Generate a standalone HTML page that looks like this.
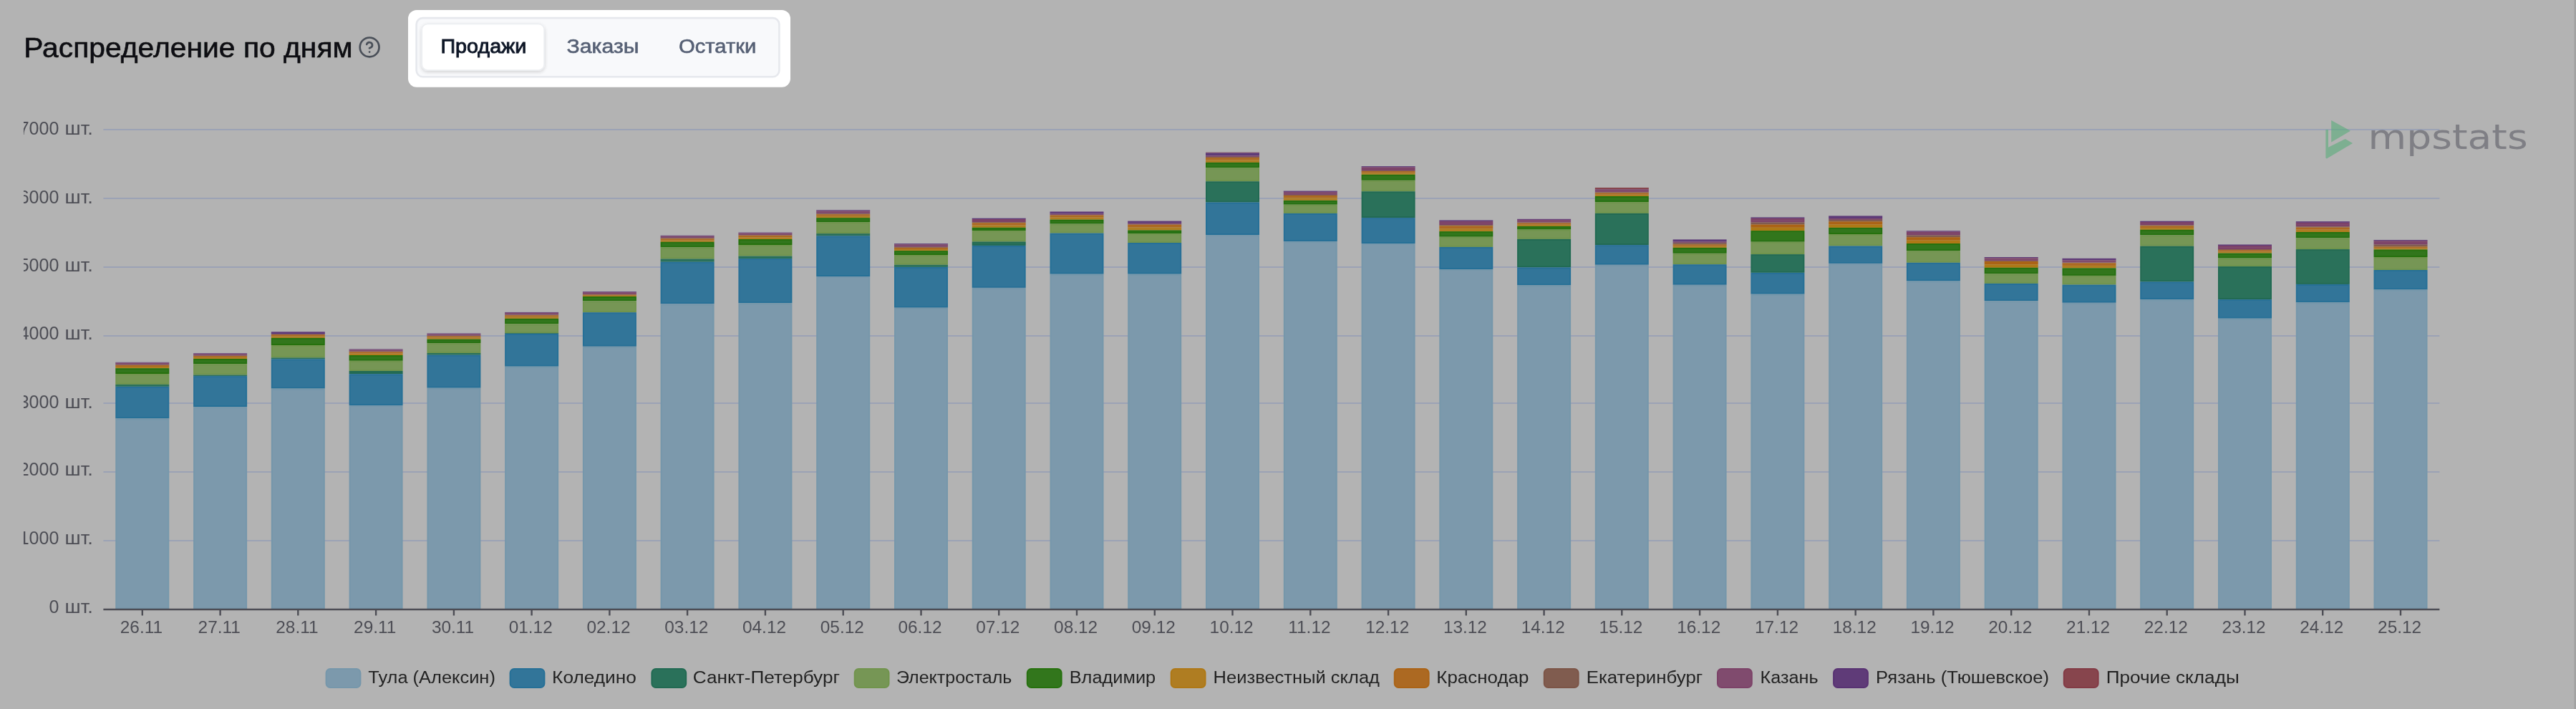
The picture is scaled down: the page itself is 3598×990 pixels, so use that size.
<!DOCTYPE html>
<html lang="ru"><head><meta charset="utf-8"><title>Распределение по дням</title>
<style>html,body{margin:0;padding:0;background:#b3b3b3;}body{width:3598px;height:990px;overflow:hidden;}svg{display:block}text{white-space:pre}</style></head><body>
<svg width="3598" height="990" viewBox="0 0 3598 990" font-family="Liberation Sans, Arial, sans-serif">
<defs><clipPath id="cl"><rect x="33.5" y="0" width="3600" height="990"/></clipPath>
<filter id="sh" x="-10%" y="-20%" width="120%" height="150%"><feGaussianBlur in="SourceAlpha" stdDeviation="2.5"/><feOffset dy="2"/><feComponentTransfer><feFuncA type="linear" slope="0.16"/></feComponentTransfer><feMerge><feMergeNode/><feMergeNode in="SourceGraphic"/></feMerge></filter>
<filter id="bs" filterUnits="userSpaceOnUse" x="0" y="0" width="3598" height="990"><feGaussianBlur stdDeviation="0.7"/></filter>
<filter id="bt" filterUnits="userSpaceOnUse" x="0" y="0" width="3598" height="990"><feGaussianBlur stdDeviation="0.5"/></filter>
</defs>
<rect width="3598" height="990" fill="#b3b3b3"/>
<g filter="url(#bs)">
<rect x="3595.4" y="-5" width="8" height="1000" fill="#a2a2a2"/>
<g fill="none" stroke="#4a4f59" stroke-width="2" stroke-linecap="round" stroke-linejoin="round" transform="translate(516.1 65.9) scale(1.34) translate(-12 -12)"><circle cx="12" cy="12" r="10"/><path d="M9.09 9a3 3 0 0 1 5.83 1c0 2-3 3-3 3"/><line x1="12" y1="17" x2="12.01" y2="17"/></g>
<rect x="570" y="14" width="534" height="107.7" rx="12" fill="#ffffff"/>
<rect x="581.6" y="25.1" width="506.8" height="82.2" rx="9" fill="#f8f9fb" stroke="#e6e8ed" stroke-width="2.6"/>
<rect x="589.3" y="33.4" width="170.8" height="64.6" rx="8" fill="#ffffff" stroke="#eceef1" stroke-width="1.6" filter="url(#sh)"/>
<g stroke="#9ba2b5" stroke-width="2">
<line x1="144.4" y1="755" x2="3407.4" y2="755"/>
<line x1="144.4" y1="659" x2="3407.4" y2="659"/>
<line x1="144.4" y1="563" x2="3407.4" y2="563"/>
<line x1="144.4" y1="469" x2="3407.4" y2="469"/>
<line x1="144.4" y1="373" x2="3407.4" y2="373"/>
<line x1="144.4" y1="277" x2="3407.4" y2="277"/>
<line x1="144.4" y1="181" x2="3407.4" y2="181"/>
</g>
<rect x="161.3" y="505.8" width="75.0" height="0.8" fill="#5f3a78"/>
<rect x="161.3" y="506.6" width="75.0" height="2.6" fill="#804b6e"/>
<rect x="161.3" y="509.2" width="75.0" height="0.6" fill="#805c50"/>
<rect x="161.3" y="509.8" width="75.0" height="2.2" fill="#ac6921"/>
<rect x="161.3" y="512.0" width="75.0" height="2.2" fill="#af7d21"/>
<rect x="162.3" y="515.2" width="73.0" height="5.8" fill="#32761e" stroke="#277111" stroke-width="2"/>
<rect x="162.3" y="523.0" width="73.0" height="12.9" fill="#769655" stroke="#71944d" stroke-width="2"/>
<rect x="161.3" y="536.9" width="75.0" height="2.9" fill="#2c715a"/>
<rect x="162.3" y="540.8" width="73.0" height="42.6" fill="#327599" stroke="#277097" stroke-width="2"/>
<rect x="162.3" y="585.4" width="73.0" height="264.6" fill="#7b99ac" stroke="#7697ab" stroke-width="2"/>
<rect x="270.1" y="493.3" width="75.0" height="0.8" fill="#5f3a78"/>
<rect x="270.1" y="494.1" width="75.0" height="2.5" fill="#804b6e"/>
<rect x="270.1" y="496.5" width="75.0" height="0.6" fill="#805c50"/>
<rect x="270.1" y="497.1" width="75.0" height="1.9" fill="#ac6921"/>
<rect x="270.1" y="499.1" width="75.0" height="1.9" fill="#af7d21"/>
<rect x="271.1" y="502.0" width="73.0" height="5.1" fill="#32761e" stroke="#277111" stroke-width="2"/>
<rect x="271.1" y="509.1" width="73.0" height="13.4" fill="#769655" stroke="#71944d" stroke-width="2"/>
<rect x="270.1" y="523.5" width="75.0" height="1.6" fill="#2c715a"/>
<rect x="271.1" y="526.1" width="73.0" height="41.0" fill="#327599" stroke="#277097" stroke-width="2"/>
<rect x="271.1" y="569.1" width="73.0" height="280.9" fill="#7b99ac" stroke="#7697ab" stroke-width="2"/>
<rect x="378.8" y="463.3" width="75.0" height="3.5" fill="#5f3a78"/>
<rect x="378.8" y="466.8" width="75.0" height="0.3" fill="#805c50"/>
<rect x="378.8" y="467.1" width="75.0" height="2.4" fill="#ac6921"/>
<rect x="378.8" y="469.5" width="75.0" height="2.4" fill="#af7d21"/>
<rect x="379.8" y="472.9" width="73.0" height="8.1" fill="#32761e" stroke="#277111" stroke-width="2"/>
<rect x="379.8" y="483.0" width="73.0" height="15.4" fill="#769655" stroke="#71944d" stroke-width="2"/>
<rect x="378.8" y="499.4" width="75.0" height="1.9" fill="#2c715a"/>
<rect x="379.8" y="502.3" width="73.0" height="39.3" fill="#327599" stroke="#277097" stroke-width="2"/>
<rect x="379.8" y="543.6" width="73.0" height="306.4" fill="#7b99ac" stroke="#7697ab" stroke-width="2"/>
<rect x="487.6" y="487.5" width="75.0" height="0.8" fill="#5f3a78"/>
<rect x="487.6" y="488.3" width="75.0" height="2.5" fill="#804b6e"/>
<rect x="487.6" y="490.7" width="75.0" height="0.6" fill="#805c50"/>
<rect x="487.6" y="491.3" width="75.0" height="2.3" fill="#ac6921"/>
<rect x="487.6" y="493.6" width="75.0" height="2.4" fill="#af7d21"/>
<rect x="488.6" y="497.0" width="73.0" height="5.8" fill="#32761e" stroke="#277111" stroke-width="2"/>
<rect x="488.6" y="504.8" width="73.0" height="12.2" fill="#769655" stroke="#71944d" stroke-width="2"/>
<rect x="488.6" y="519.0" width="73.0" height="2.2" fill="#2c715a" stroke="#206b52" stroke-width="2"/>
<rect x="488.6" y="523.2" width="73.0" height="41.8" fill="#327599" stroke="#277097" stroke-width="2"/>
<rect x="488.6" y="567.0" width="73.0" height="283.0" fill="#7b99ac" stroke="#7697ab" stroke-width="2"/>
<rect x="596.4" y="465.5" width="75.0" height="0.8" fill="#5f3a78"/>
<rect x="596.4" y="466.3" width="75.0" height="2.5" fill="#804b6e"/>
<rect x="596.4" y="468.7" width="75.0" height="0.6" fill="#805c50"/>
<rect x="596.4" y="469.3" width="75.0" height="2.2" fill="#ac6921"/>
<rect x="596.4" y="471.5" width="75.0" height="2.2" fill="#af7d21"/>
<rect x="597.4" y="474.7" width="73.0" height="3.4" fill="#32761e" stroke="#277111" stroke-width="2"/>
<rect x="597.4" y="480.1" width="73.0" height="11.9" fill="#769655" stroke="#71944d" stroke-width="2"/>
<rect x="596.4" y="493.0" width="75.0" height="2.7" fill="#2c715a"/>
<rect x="597.4" y="496.7" width="73.0" height="44.0" fill="#327599" stroke="#277097" stroke-width="2"/>
<rect x="597.4" y="542.7" width="73.0" height="307.3" fill="#7b99ac" stroke="#7697ab" stroke-width="2"/>
<rect x="705.1" y="435.9" width="75.0" height="0.9" fill="#5f3a78"/>
<rect x="705.1" y="436.8" width="75.0" height="2.8" fill="#804b6e"/>
<rect x="705.1" y="439.6" width="75.0" height="0.6" fill="#805c50"/>
<rect x="705.1" y="440.2" width="75.0" height="2.3" fill="#ac6921"/>
<rect x="705.1" y="442.5" width="75.0" height="2.4" fill="#af7d21"/>
<rect x="706.1" y="445.9" width="73.0" height="5.4" fill="#32761e" stroke="#277111" stroke-width="2"/>
<rect x="706.1" y="453.3" width="73.0" height="10.7" fill="#769655" stroke="#71944d" stroke-width="2"/>
<rect x="705.1" y="465.0" width="75.0" height="0.9" fill="#2c715a"/>
<rect x="706.1" y="466.9" width="73.0" height="43.8" fill="#327599" stroke="#277097" stroke-width="2"/>
<rect x="706.1" y="512.7" width="73.0" height="337.3" fill="#7b99ac" stroke="#7697ab" stroke-width="2"/>
<rect x="813.9" y="407.2" width="75.0" height="0.9" fill="#5f3a78"/>
<rect x="813.9" y="408.1" width="75.0" height="2.9" fill="#804b6e"/>
<rect x="813.9" y="410.9" width="75.0" height="0.7" fill="#805c50"/>
<rect x="813.9" y="411.6" width="75.0" height="1.2" fill="#ac6921"/>
<rect x="813.9" y="412.8" width="75.0" height="1.2" fill="#af7d21"/>
<rect x="814.9" y="415.0" width="73.0" height="4.3" fill="#32761e" stroke="#277111" stroke-width="2"/>
<rect x="814.9" y="421.3" width="73.0" height="13.9" fill="#769655" stroke="#71944d" stroke-width="2"/>
<rect x="814.9" y="437.2" width="73.0" height="45.6" fill="#327599" stroke="#277097" stroke-width="2"/>
<rect x="814.9" y="484.8" width="73.0" height="365.2" fill="#7b99ac" stroke="#7697ab" stroke-width="2"/>
<rect x="922.6" y="328.8" width="75.0" height="0.9" fill="#5f3a78"/>
<rect x="922.6" y="329.7" width="75.0" height="2.9" fill="#804b6e"/>
<rect x="922.6" y="332.5" width="75.0" height="0.7" fill="#805c50"/>
<rect x="922.6" y="333.2" width="75.0" height="2.3" fill="#ac6921"/>
<rect x="922.6" y="335.5" width="75.0" height="2.3" fill="#af7d21"/>
<rect x="923.6" y="338.8" width="73.0" height="5.6" fill="#32761e" stroke="#277111" stroke-width="2"/>
<rect x="923.6" y="346.4" width="73.0" height="14.1" fill="#769655" stroke="#71944d" stroke-width="2"/>
<rect x="922.6" y="361.5" width="75.0" height="4.2" fill="#2c715a"/>
<rect x="923.6" y="366.7" width="73.0" height="56.6" fill="#327599" stroke="#277097" stroke-width="2"/>
<rect x="923.6" y="425.3" width="73.0" height="424.7" fill="#7b99ac" stroke="#7697ab" stroke-width="2"/>
<rect x="1031.4" y="324.6" width="75.0" height="0.8" fill="#5f3a78"/>
<rect x="1031.4" y="325.4" width="75.0" height="2.7" fill="#804b6e"/>
<rect x="1031.4" y="328.2" width="75.0" height="0.6" fill="#805c50"/>
<rect x="1031.4" y="328.8" width="75.0" height="2.6" fill="#ac6921"/>
<rect x="1031.4" y="331.4" width="75.0" height="2.6" fill="#af7d21"/>
<rect x="1032.4" y="335.0" width="73.0" height="6.0" fill="#32761e" stroke="#277111" stroke-width="2"/>
<rect x="1032.4" y="343.0" width="73.0" height="13.6" fill="#769655" stroke="#71944d" stroke-width="2"/>
<rect x="1031.4" y="357.6" width="75.0" height="3.5" fill="#2c715a"/>
<rect x="1032.4" y="362.1" width="73.0" height="60.1" fill="#327599" stroke="#277097" stroke-width="2"/>
<rect x="1032.4" y="424.2" width="73.0" height="425.8" fill="#7b99ac" stroke="#7697ab" stroke-width="2"/>
<rect x="1140.2" y="293.3" width="75.0" height="1.2" fill="#5f3a78"/>
<rect x="1140.2" y="294.5" width="75.0" height="3.8" fill="#804b6e"/>
<rect x="1140.2" y="298.3" width="75.0" height="0.9" fill="#805c50"/>
<rect x="1140.2" y="299.2" width="75.0" height="2.5" fill="#ac6921"/>
<rect x="1140.2" y="301.7" width="75.0" height="2.5" fill="#af7d21"/>
<rect x="1141.2" y="305.2" width="73.0" height="3.9" fill="#32761e" stroke="#277111" stroke-width="2"/>
<rect x="1141.2" y="311.1" width="73.0" height="14.0" fill="#769655" stroke="#71944d" stroke-width="2"/>
<rect x="1140.2" y="326.1" width="75.0" height="3.3" fill="#2c715a"/>
<rect x="1141.2" y="330.4" width="73.0" height="54.6" fill="#327599" stroke="#277097" stroke-width="2"/>
<rect x="1141.2" y="387.0" width="73.0" height="463.0" fill="#7b99ac" stroke="#7697ab" stroke-width="2"/>
<rect x="1249.0" y="340.1" width="75.0" height="1.1" fill="#5f3a78"/>
<rect x="1249.0" y="341.2" width="75.0" height="3.7" fill="#804b6e"/>
<rect x="1249.0" y="344.9" width="75.0" height="0.9" fill="#805c50"/>
<rect x="1249.0" y="345.8" width="75.0" height="2.2" fill="#ac6921"/>
<rect x="1249.0" y="348.0" width="75.0" height="2.1" fill="#af7d21"/>
<rect x="1250.0" y="351.1" width="73.0" height="3.9" fill="#32761e" stroke="#277111" stroke-width="2"/>
<rect x="1250.0" y="357.0" width="73.0" height="11.8" fill="#769655" stroke="#71944d" stroke-width="2"/>
<rect x="1249.0" y="369.8" width="75.0" height="3.1" fill="#2c715a"/>
<rect x="1250.0" y="373.9" width="73.0" height="54.8" fill="#327599" stroke="#277097" stroke-width="2"/>
<rect x="1250.0" y="430.7" width="73.0" height="419.3" fill="#7b99ac" stroke="#7697ab" stroke-width="2"/>
<rect x="1357.7" y="304.7" width="75.0" height="1.3" fill="#5f3a78"/>
<rect x="1358.7" y="307.0" width="73.0" height="2.2" fill="#804b6e" stroke="#7c4268" stroke-width="2"/>
<rect x="1357.7" y="310.2" width="75.0" height="1.0" fill="#805c50"/>
<rect x="1357.7" y="311.2" width="75.0" height="3.3" fill="#ac6921"/>
<rect x="1357.7" y="314.5" width="75.0" height="3.3" fill="#af7d21"/>
<rect x="1358.7" y="318.8" width="73.0" height="2.4" fill="#32761e" stroke="#277111" stroke-width="2"/>
<rect x="1358.7" y="323.2" width="73.0" height="13.3" fill="#769655" stroke="#71944d" stroke-width="2"/>
<rect x="1358.7" y="338.5" width="73.0" height="3.4" fill="#2c715a" stroke="#206b52" stroke-width="2"/>
<rect x="1358.7" y="343.9" width="73.0" height="57.0" fill="#327599" stroke="#277097" stroke-width="2"/>
<rect x="1358.7" y="402.9" width="73.0" height="447.1" fill="#7b99ac" stroke="#7697ab" stroke-width="2"/>
<rect x="1466.5" y="295.5" width="75.0" height="3.1" fill="#5f3a78"/>
<rect x="1466.5" y="298.6" width="75.0" height="1.4" fill="#804b6e"/>
<rect x="1466.5" y="300.0" width="75.0" height="0.5" fill="#805c50"/>
<rect x="1466.5" y="300.5" width="75.0" height="3.1" fill="#ac6921"/>
<rect x="1466.5" y="303.6" width="75.0" height="3.1" fill="#af7d21"/>
<rect x="1467.5" y="307.7" width="73.0" height="3.9" fill="#32761e" stroke="#277111" stroke-width="2"/>
<rect x="1467.5" y="313.6" width="73.0" height="11.0" fill="#769655" stroke="#71944d" stroke-width="2"/>
<rect x="1467.5" y="326.6" width="73.0" height="55.1" fill="#327599" stroke="#277097" stroke-width="2"/>
<rect x="1467.5" y="383.7" width="73.0" height="466.3" fill="#7b99ac" stroke="#7697ab" stroke-width="2"/>
<rect x="1575.2" y="308.6" width="75.0" height="3.2" fill="#5f3a78"/>
<rect x="1575.2" y="311.8" width="75.0" height="1.4" fill="#804b6e"/>
<rect x="1575.2" y="313.2" width="75.0" height="0.5" fill="#805c50"/>
<rect x="1575.2" y="313.7" width="75.0" height="3.9" fill="#ac6921"/>
<rect x="1575.2" y="317.6" width="75.0" height="3.9" fill="#af7d21"/>
<rect x="1576.2" y="322.5" width="73.0" height="2.6" fill="#32761e" stroke="#277111" stroke-width="2"/>
<rect x="1576.2" y="327.1" width="73.0" height="10.9" fill="#769655" stroke="#71944d" stroke-width="2"/>
<rect x="1576.2" y="340.0" width="73.0" height="41.7" fill="#327599" stroke="#277097" stroke-width="2"/>
<rect x="1576.2" y="383.7" width="73.0" height="466.3" fill="#7b99ac" stroke="#7697ab" stroke-width="2"/>
<rect x="1684.0" y="212.7" width="75.0" height="0.7" fill="#87444e"/>
<rect x="1684.0" y="213.4" width="75.0" height="4.1" fill="#5f3a78"/>
<rect x="1684.0" y="217.5" width="75.0" height="1.5" fill="#804b6e"/>
<rect x="1684.0" y="219.0" width="75.0" height="1.1" fill="#805c50"/>
<rect x="1684.0" y="220.1" width="75.0" height="3.4" fill="#ac6921"/>
<rect x="1684.0" y="223.5" width="75.0" height="3.4" fill="#af7d21"/>
<rect x="1685.0" y="227.9" width="73.0" height="5.4" fill="#32761e" stroke="#277111" stroke-width="2"/>
<rect x="1685.0" y="235.3" width="73.0" height="17.0" fill="#769655" stroke="#71944d" stroke-width="2"/>
<rect x="1685.0" y="254.3" width="73.0" height="27.2" fill="#2c715a" stroke="#206b52" stroke-width="2"/>
<rect x="1685.0" y="283.5" width="73.0" height="43.5" fill="#327599" stroke="#277097" stroke-width="2"/>
<rect x="1685.0" y="329.0" width="73.0" height="521.0" fill="#7b99ac" stroke="#7697ab" stroke-width="2"/>
<rect x="1792.8" y="266.6" width="75.0" height="1.3" fill="#5f3a78"/>
<rect x="1792.8" y="267.9" width="75.0" height="4.2" fill="#804b6e"/>
<rect x="1792.8" y="272.0" width="75.0" height="1.0" fill="#805c50"/>
<rect x="1792.8" y="273.0" width="75.0" height="3.4" fill="#ac6921"/>
<rect x="1792.8" y="276.4" width="75.0" height="3.4" fill="#af7d21"/>
<rect x="1793.8" y="280.9" width="73.0" height="3.8" fill="#32761e" stroke="#277111" stroke-width="2"/>
<rect x="1793.8" y="286.7" width="73.0" height="10.2" fill="#769655" stroke="#71944d" stroke-width="2"/>
<rect x="1793.8" y="298.9" width="73.0" height="37.2" fill="#327599" stroke="#277097" stroke-width="2"/>
<rect x="1793.8" y="338.1" width="73.0" height="511.9" fill="#7b99ac" stroke="#7697ab" stroke-width="2"/>
<rect x="1901.6" y="232.1" width="75.0" height="1.4" fill="#5f3a78"/>
<rect x="1902.6" y="234.5" width="73.0" height="2.6" fill="#804b6e" stroke="#7c4268" stroke-width="2"/>
<rect x="1901.6" y="238.1" width="75.0" height="1.1" fill="#805c50"/>
<rect x="1901.6" y="239.1" width="75.0" height="2.3" fill="#ac6921"/>
<rect x="1901.6" y="241.4" width="75.0" height="2.4" fill="#af7d21"/>
<rect x="1902.6" y="244.8" width="73.0" height="6.0" fill="#32761e" stroke="#277111" stroke-width="2"/>
<rect x="1902.6" y="252.8" width="73.0" height="13.5" fill="#769655" stroke="#71944d" stroke-width="2"/>
<rect x="1902.6" y="268.3" width="73.0" height="34.8" fill="#2c715a" stroke="#206b52" stroke-width="2"/>
<rect x="1902.6" y="305.1" width="73.0" height="33.9" fill="#327599" stroke="#277097" stroke-width="2"/>
<rect x="1902.6" y="341.0" width="73.0" height="509.0" fill="#7b99ac" stroke="#7697ab" stroke-width="2"/>
<rect x="2010.3" y="307.5" width="75.0" height="1.6" fill="#5f3a78"/>
<rect x="2011.3" y="310.1" width="73.0" height="3.1" fill="#804b6e" stroke="#7c4268" stroke-width="2"/>
<rect x="2010.3" y="314.1" width="75.0" height="1.2" fill="#805c50"/>
<rect x="2010.3" y="315.3" width="75.0" height="3.9" fill="#ac6921"/>
<rect x="2010.3" y="319.2" width="75.0" height="3.9" fill="#af7d21"/>
<rect x="2011.3" y="324.1" width="73.0" height="5.6" fill="#32761e" stroke="#277111" stroke-width="2"/>
<rect x="2011.3" y="331.7" width="73.0" height="12.2" fill="#769655" stroke="#71944d" stroke-width="2"/>
<rect x="2011.3" y="345.9" width="73.0" height="29.1" fill="#327599" stroke="#277097" stroke-width="2"/>
<rect x="2011.3" y="377.0" width="73.0" height="473.0" fill="#7b99ac" stroke="#7697ab" stroke-width="2"/>
<rect x="2119.1" y="305.8" width="75.0" height="1.1" fill="#5f3a78"/>
<rect x="2119.1" y="306.9" width="75.0" height="3.7" fill="#804b6e"/>
<rect x="2119.1" y="310.6" width="75.0" height="0.9" fill="#805c50"/>
<rect x="2119.1" y="311.5" width="75.0" height="2.2" fill="#ac6921"/>
<rect x="2119.1" y="313.7" width="75.0" height="2.2" fill="#af7d21"/>
<rect x="2120.1" y="316.9" width="73.0" height="2.7" fill="#32761e" stroke="#277111" stroke-width="2"/>
<rect x="2120.1" y="321.6" width="73.0" height="11.3" fill="#769655" stroke="#71944d" stroke-width="2"/>
<rect x="2120.1" y="334.9" width="73.0" height="37.5" fill="#2c715a" stroke="#206b52" stroke-width="2"/>
<rect x="2120.1" y="374.4" width="73.0" height="23.0" fill="#327599" stroke="#277097" stroke-width="2"/>
<rect x="2120.1" y="399.4" width="73.0" height="450.6" fill="#7b99ac" stroke="#7697ab" stroke-width="2"/>
<rect x="2227.8" y="262.0" width="75.0" height="2.2" fill="#87444e"/>
<rect x="2227.8" y="264.2" width="75.0" height="4.1" fill="#804b6e"/>
<rect x="2227.8" y="268.3" width="75.0" height="1.1" fill="#805c50"/>
<rect x="2227.8" y="269.4" width="75.0" height="2.3" fill="#ac6921"/>
<rect x="2227.8" y="271.7" width="75.0" height="2.3" fill="#af7d21"/>
<rect x="2228.8" y="275.0" width="73.0" height="6.1" fill="#32761e" stroke="#277111" stroke-width="2"/>
<rect x="2228.8" y="283.1" width="73.0" height="13.8" fill="#769655" stroke="#71944d" stroke-width="2"/>
<rect x="2228.8" y="298.9" width="73.0" height="42.2" fill="#2c715a" stroke="#206b52" stroke-width="2"/>
<rect x="2228.8" y="343.1" width="73.0" height="25.7" fill="#327599" stroke="#277097" stroke-width="2"/>
<rect x="2228.8" y="370.8" width="73.0" height="479.2" fill="#7b99ac" stroke="#7697ab" stroke-width="2"/>
<rect x="2336.6" y="334.4" width="75.0" height="3.1" fill="#5f3a78"/>
<rect x="2336.6" y="337.5" width="75.0" height="1.7" fill="#804b6e"/>
<rect x="2336.6" y="339.2" width="75.0" height="2.1" fill="#805c50"/>
<rect x="2336.6" y="341.3" width="75.0" height="2.3" fill="#ac6921"/>
<rect x="2336.6" y="343.6" width="75.0" height="2.3" fill="#af7d21"/>
<rect x="2337.6" y="346.9" width="73.0" height="5.9" fill="#32761e" stroke="#277111" stroke-width="2"/>
<rect x="2337.6" y="354.8" width="73.0" height="13.4" fill="#769655" stroke="#71944d" stroke-width="2"/>
<rect x="2337.6" y="370.2" width="73.0" height="26.6" fill="#327599" stroke="#277097" stroke-width="2"/>
<rect x="2337.6" y="398.8" width="73.0" height="451.2" fill="#7b99ac" stroke="#7697ab" stroke-width="2"/>
<rect x="2445.4" y="303.4" width="75.0" height="1.5" fill="#5f3a78"/>
<rect x="2446.4" y="305.9" width="73.0" height="3.6" fill="#804b6e" stroke="#7c4268" stroke-width="2"/>
<rect x="2445.4" y="310.5" width="75.0" height="3.0" fill="#805c50"/>
<rect x="2446.4" y="314.5" width="73.0" height="2.3" fill="#ac6921" stroke="#ab6314" stroke-width="2"/>
<rect x="2446.4" y="318.8" width="73.0" height="2.3" fill="#af7d21" stroke="#af7814" stroke-width="2"/>
<rect x="2446.4" y="323.1" width="73.0" height="13.6" fill="#32761e" stroke="#277111" stroke-width="2"/>
<rect x="2446.4" y="338.7" width="73.0" height="15.4" fill="#769655" stroke="#71944d" stroke-width="2"/>
<rect x="2446.4" y="356.1" width="73.0" height="23.7" fill="#2c715a" stroke="#206b52" stroke-width="2"/>
<rect x="2446.4" y="381.8" width="73.0" height="27.9" fill="#327599" stroke="#277097" stroke-width="2"/>
<rect x="2446.4" y="411.7" width="73.0" height="438.3" fill="#7b99ac" stroke="#7697ab" stroke-width="2"/>
<rect x="2554.2" y="301.4" width="75.0" height="3.6" fill="#5f3a78"/>
<rect x="2554.2" y="305.0" width="75.0" height="2.0" fill="#804b6e"/>
<rect x="2554.2" y="306.9" width="75.0" height="2.4" fill="#805c50"/>
<rect x="2555.2" y="310.3" width="73.0" height="2.3" fill="#ac6921" stroke="#ab6314" stroke-width="2"/>
<rect x="2555.2" y="314.6" width="73.0" height="2.3" fill="#af7d21" stroke="#af7814" stroke-width="2"/>
<rect x="2555.2" y="318.9" width="73.0" height="7.1" fill="#32761e" stroke="#277111" stroke-width="2"/>
<rect x="2555.2" y="328.0" width="73.0" height="14.5" fill="#769655" stroke="#71944d" stroke-width="2"/>
<rect x="2555.2" y="344.5" width="73.0" height="22.4" fill="#327599" stroke="#277097" stroke-width="2"/>
<rect x="2555.2" y="368.9" width="73.0" height="481.1" fill="#7b99ac" stroke="#7697ab" stroke-width="2"/>
<rect x="2662.9" y="322.3" width="75.0" height="1.3" fill="#5f3a78"/>
<rect x="2663.9" y="324.6" width="73.0" height="2.9" fill="#804b6e" stroke="#7c4268" stroke-width="2"/>
<rect x="2662.9" y="328.5" width="75.0" height="2.7" fill="#805c50"/>
<rect x="2663.9" y="332.2" width="73.0" height="2.4" fill="#ac6921" stroke="#ab6314" stroke-width="2"/>
<rect x="2663.9" y="336.6" width="73.0" height="2.4" fill="#af7d21" stroke="#af7814" stroke-width="2"/>
<rect x="2663.9" y="341.0" width="73.0" height="8.2" fill="#32761e" stroke="#277111" stroke-width="2"/>
<rect x="2663.9" y="351.2" width="73.0" height="14.6" fill="#769655" stroke="#71944d" stroke-width="2"/>
<rect x="2663.9" y="367.8" width="73.0" height="23.7" fill="#327599" stroke="#277097" stroke-width="2"/>
<rect x="2663.9" y="393.5" width="73.0" height="456.5" fill="#7b99ac" stroke="#7697ab" stroke-width="2"/>
<rect x="2771.7" y="359.0" width="75.0" height="1.2" fill="#5f3a78"/>
<rect x="2771.7" y="360.2" width="75.0" height="3.9" fill="#804b6e"/>
<rect x="2771.7" y="364.1" width="75.0" height="0.9" fill="#805c50"/>
<rect x="2772.7" y="366.0" width="73.0" height="2.4" fill="#ac6921" stroke="#ab6314" stroke-width="2"/>
<rect x="2772.7" y="370.4" width="73.0" height="2.4" fill="#af7d21" stroke="#af7814" stroke-width="2"/>
<rect x="2772.7" y="374.8" width="73.0" height="6.5" fill="#32761e" stroke="#277111" stroke-width="2"/>
<rect x="2772.7" y="383.3" width="73.0" height="11.6" fill="#769655" stroke="#71944d" stroke-width="2"/>
<rect x="2772.7" y="396.9" width="73.0" height="22.3" fill="#327599" stroke="#277097" stroke-width="2"/>
<rect x="2772.7" y="421.2" width="73.0" height="428.8" fill="#7b99ac" stroke="#7697ab" stroke-width="2"/>
<rect x="2880.5" y="360.8" width="75.0" height="2.6" fill="#5f3a78"/>
<rect x="2880.5" y="363.4" width="75.0" height="3.2" fill="#804b6e"/>
<rect x="2880.5" y="366.7" width="75.0" height="0.6" fill="#805c50"/>
<rect x="2880.5" y="367.3" width="75.0" height="3.6" fill="#ac6921"/>
<rect x="2880.5" y="370.9" width="75.0" height="3.5" fill="#af7d21"/>
<rect x="2881.5" y="375.4" width="73.0" height="8.5" fill="#32761e" stroke="#277111" stroke-width="2"/>
<rect x="2881.5" y="385.9" width="73.0" height="10.7" fill="#769655" stroke="#71944d" stroke-width="2"/>
<rect x="2881.5" y="398.6" width="73.0" height="23.2" fill="#327599" stroke="#277097" stroke-width="2"/>
<rect x="2881.5" y="423.8" width="73.0" height="426.2" fill="#7b99ac" stroke="#7697ab" stroke-width="2"/>
<rect x="2989.2" y="308.7" width="75.0" height="1.3" fill="#5f3a78"/>
<rect x="2990.2" y="311.0" width="73.0" height="2.3" fill="#804b6e" stroke="#7c4268" stroke-width="2"/>
<rect x="2989.2" y="314.3" width="75.0" height="1.0" fill="#805c50"/>
<rect x="2989.2" y="315.3" width="75.0" height="2.8" fill="#ac6921"/>
<rect x="2989.2" y="318.1" width="75.0" height="2.8" fill="#af7d21"/>
<rect x="2990.2" y="321.8" width="73.0" height="5.6" fill="#32761e" stroke="#277111" stroke-width="2"/>
<rect x="2990.2" y="329.4" width="73.0" height="13.3" fill="#769655" stroke="#71944d" stroke-width="2"/>
<rect x="2990.2" y="344.7" width="73.0" height="47.7" fill="#2c715a" stroke="#206b52" stroke-width="2"/>
<rect x="2990.2" y="394.4" width="73.0" height="22.7" fill="#327599" stroke="#277097" stroke-width="2"/>
<rect x="2990.2" y="419.1" width="73.0" height="430.9" fill="#7b99ac" stroke="#7697ab" stroke-width="2"/>
<rect x="3098.0" y="341.5" width="75.0" height="1.5" fill="#5f3a78"/>
<rect x="3099.0" y="344.0" width="73.0" height="3.0" fill="#804b6e" stroke="#7c4268" stroke-width="2"/>
<rect x="3098.0" y="348.0" width="75.0" height="1.2" fill="#805c50"/>
<rect x="3098.0" y="349.2" width="75.0" height="2.2" fill="#ac6921"/>
<rect x="3098.0" y="351.4" width="75.0" height="2.2" fill="#af7d21"/>
<rect x="3099.0" y="354.6" width="73.0" height="5.0" fill="#32761e" stroke="#277111" stroke-width="2"/>
<rect x="3099.0" y="361.6" width="73.0" height="9.5" fill="#769655" stroke="#71944d" stroke-width="2"/>
<rect x="3099.0" y="373.1" width="73.0" height="44.0" fill="#2c715a" stroke="#206b52" stroke-width="2"/>
<rect x="3099.0" y="419.1" width="73.0" height="24.6" fill="#327599" stroke="#277097" stroke-width="2"/>
<rect x="3099.0" y="445.7" width="73.0" height="404.3" fill="#7b99ac" stroke="#7697ab" stroke-width="2"/>
<rect x="3206.8" y="309.2" width="75.0" height="1.7" fill="#5f3a78"/>
<rect x="3207.8" y="311.9" width="73.0" height="3.4" fill="#804b6e" stroke="#7c4268" stroke-width="2"/>
<rect x="3206.8" y="316.3" width="75.0" height="1.2" fill="#805c50"/>
<rect x="3206.8" y="317.5" width="75.0" height="3.2" fill="#ac6921"/>
<rect x="3206.8" y="320.8" width="75.0" height="3.2" fill="#af7d21"/>
<rect x="3207.8" y="325.0" width="73.0" height="6.4" fill="#32761e" stroke="#277111" stroke-width="2"/>
<rect x="3207.8" y="333.4" width="73.0" height="13.7" fill="#769655" stroke="#71944d" stroke-width="2"/>
<rect x="3207.8" y="349.1" width="73.0" height="46.8" fill="#2c715a" stroke="#206b52" stroke-width="2"/>
<rect x="3207.8" y="397.9" width="73.0" height="23.5" fill="#327599" stroke="#277097" stroke-width="2"/>
<rect x="3207.8" y="423.4" width="73.0" height="426.6" fill="#7b99ac" stroke="#7697ab" stroke-width="2"/>
<rect x="3315.5" y="335.0" width="75.0" height="1.4" fill="#5f3a78"/>
<rect x="3316.5" y="337.4" width="73.0" height="3.2" fill="#804b6e" stroke="#7c4268" stroke-width="2"/>
<rect x="3315.5" y="341.6" width="75.0" height="2.8" fill="#805c50"/>
<rect x="3315.5" y="344.4" width="75.0" height="2.1" fill="#ac6921"/>
<rect x="3315.5" y="346.4" width="75.0" height="2.1" fill="#af7d21"/>
<rect x="3316.5" y="349.5" width="73.0" height="8.5" fill="#32761e" stroke="#277111" stroke-width="2"/>
<rect x="3316.5" y="360.0" width="73.0" height="16.0" fill="#769655" stroke="#71944d" stroke-width="2"/>
<rect x="3316.5" y="378.0" width="73.0" height="25.5" fill="#327599" stroke="#277097" stroke-width="2"/>
<rect x="3316.5" y="405.5" width="73.0" height="444.5" fill="#7b99ac" stroke="#7697ab" stroke-width="2"/>
<g stroke="#4d4e55" stroke-width="2.5">
<line x1="144.4" y1="851.0" x2="3407.4" y2="851.0"/>
<line x1="198.8" y1="851.0" x2="198.8" y2="859.5" stroke-width="2.4"/>
<line x1="307.6" y1="851.0" x2="307.6" y2="859.5" stroke-width="2.4"/>
<line x1="416.3" y1="851.0" x2="416.3" y2="859.5" stroke-width="2.4"/>
<line x1="525.1" y1="851.0" x2="525.1" y2="859.5" stroke-width="2.4"/>
<line x1="633.9" y1="851.0" x2="633.9" y2="859.5" stroke-width="2.4"/>
<line x1="742.6" y1="851.0" x2="742.6" y2="859.5" stroke-width="2.4"/>
<line x1="851.4" y1="851.0" x2="851.4" y2="859.5" stroke-width="2.4"/>
<line x1="960.1" y1="851.0" x2="960.1" y2="859.5" stroke-width="2.4"/>
<line x1="1068.9" y1="851.0" x2="1068.9" y2="859.5" stroke-width="2.4"/>
<line x1="1177.7" y1="851.0" x2="1177.7" y2="859.5" stroke-width="2.4"/>
<line x1="1286.5" y1="851.0" x2="1286.5" y2="859.5" stroke-width="2.4"/>
<line x1="1395.2" y1="851.0" x2="1395.2" y2="859.5" stroke-width="2.4"/>
<line x1="1504.0" y1="851.0" x2="1504.0" y2="859.5" stroke-width="2.4"/>
<line x1="1612.8" y1="851.0" x2="1612.8" y2="859.5" stroke-width="2.4"/>
<line x1="1721.5" y1="851.0" x2="1721.5" y2="859.5" stroke-width="2.4"/>
<line x1="1830.3" y1="851.0" x2="1830.3" y2="859.5" stroke-width="2.4"/>
<line x1="1939.1" y1="851.0" x2="1939.1" y2="859.5" stroke-width="2.4"/>
<line x1="2047.8" y1="851.0" x2="2047.8" y2="859.5" stroke-width="2.4"/>
<line x1="2156.6" y1="851.0" x2="2156.6" y2="859.5" stroke-width="2.4"/>
<line x1="2265.3" y1="851.0" x2="2265.3" y2="859.5" stroke-width="2.4"/>
<line x1="2374.1" y1="851.0" x2="2374.1" y2="859.5" stroke-width="2.4"/>
<line x1="2482.9" y1="851.0" x2="2482.9" y2="859.5" stroke-width="2.4"/>
<line x1="2591.7" y1="851.0" x2="2591.7" y2="859.5" stroke-width="2.4"/>
<line x1="2700.4" y1="851.0" x2="2700.4" y2="859.5" stroke-width="2.4"/>
<line x1="2809.2" y1="851.0" x2="2809.2" y2="859.5" stroke-width="2.4"/>
<line x1="2918.0" y1="851.0" x2="2918.0" y2="859.5" stroke-width="2.4"/>
<line x1="3026.7" y1="851.0" x2="3026.7" y2="859.5" stroke-width="2.4"/>
<line x1="3135.5" y1="851.0" x2="3135.5" y2="859.5" stroke-width="2.4"/>
<line x1="3244.2" y1="851.0" x2="3244.2" y2="859.5" stroke-width="2.4"/>
<line x1="3353.0" y1="851.0" x2="3353.0" y2="859.5" stroke-width="2.4"/>
</g>
<rect x="455.6" y="934" width="47.8" height="26" rx="5.5" fill="#7b99ac" stroke="#7697ab" stroke-width="2"/>
<rect x="712.6" y="934" width="47.8" height="26" rx="5.5" fill="#327599" stroke="#277097" stroke-width="2"/>
<rect x="910.4" y="934" width="47.8" height="26" rx="5.5" fill="#2c715a" stroke="#206b52" stroke-width="2"/>
<rect x="1193.7" y="934" width="47.8" height="26" rx="5.5" fill="#769655" stroke="#71944d" stroke-width="2"/>
<rect x="1434.8" y="934" width="47.8" height="26" rx="5.5" fill="#32761e" stroke="#277111" stroke-width="2"/>
<rect x="1635.7" y="934" width="47.8" height="26" rx="5.5" fill="#af7d21" stroke="#af7814" stroke-width="2"/>
<rect x="1947.8" y="934" width="47.8" height="26" rx="5.5" fill="#ac6921" stroke="#ab6314" stroke-width="2"/>
<rect x="2156.8" y="934" width="47.8" height="26" rx="5.5" fill="#805c50" stroke="#7c5447" stroke-width="2"/>
<rect x="2399.0" y="934" width="47.8" height="26" rx="5.5" fill="#804b6e" stroke="#7c4268" stroke-width="2"/>
<rect x="2561.1" y="934" width="47.8" height="26" rx="5.5" fill="#5f3a78" stroke="#583073" stroke-width="2"/>
<rect x="2882.8" y="934" width="47.8" height="26" rx="5.5" fill="#87444e" stroke="#833a45" stroke-width="2"/>
<g fill="#59ac7a" opacity="0.6">
<polygon points="3256.2,168 3283,182.7 3256.2,198.5"/>
<polygon points="3248.4,181 3252,181 3252,205.8 3275.7,194 3286.1,200.1 3249.8,221.6 3248.4,220.5"/>
</g>
</g>
<g filter="url(#bt)">
<text x="33.2" y="80.2" font-size="38.8" fill="#0c0e12" stroke="#0c0e12" stroke-width="0.6" textLength="459.4" lengthAdjust="spacingAndGlyphs">Распределение по дням</text>
<text x="615.4" y="74" font-size="27" fill="#111827" stroke="#111827" stroke-width="0.9" textLength="120" lengthAdjust="spacingAndGlyphs">Продажи</text>
<text x="791.6" y="74" font-size="27" fill="#566074" stroke="#566074" stroke-width="0.6" textLength="100.9" lengthAdjust="spacingAndGlyphs">Заказы</text>
<text x="948" y="74" font-size="27" fill="#566074" stroke="#566074" stroke-width="0.6" textLength="108.3" lengthAdjust="spacingAndGlyphs">Остатки</text>
<g clip-path="url(#cl)" font-size="25" fill="#4d4e55">
<text y="855.8"><tspan x="89.25" text-anchor="end">0 </tspan><tspan x="90.6" text-anchor="start" textLength="39.4" lengthAdjust="spacingAndGlyphs">шт.</tspan></text>
<text y="759.8"><tspan x="89.25" text-anchor="end">1000 </tspan><tspan x="90.6" text-anchor="start" textLength="39.4" lengthAdjust="spacingAndGlyphs">шт.</tspan></text>
<text y="663.8"><tspan x="89.25" text-anchor="end">2000 </tspan><tspan x="90.6" text-anchor="start" textLength="39.4" lengthAdjust="spacingAndGlyphs">шт.</tspan></text>
<text y="569.8"><tspan x="89.25" text-anchor="end">3000 </tspan><tspan x="90.6" text-anchor="start" textLength="39.4" lengthAdjust="spacingAndGlyphs">шт.</tspan></text>
<text y="473.8"><tspan x="89.25" text-anchor="end">4000 </tspan><tspan x="90.6" text-anchor="start" textLength="39.4" lengthAdjust="spacingAndGlyphs">шт.</tspan></text>
<text y="379.2"><tspan x="89.25" text-anchor="end">5000 </tspan><tspan x="90.6" text-anchor="start" textLength="39.4" lengthAdjust="spacingAndGlyphs">шт.</tspan></text>
<text y="283.6"><tspan x="89.25" text-anchor="end">6000 </tspan><tspan x="90.6" text-anchor="start" textLength="39.4" lengthAdjust="spacingAndGlyphs">шт.</tspan></text>
<text y="187.8"><tspan x="89.25" text-anchor="end">7000 </tspan><tspan x="90.6" text-anchor="start" textLength="39.4" lengthAdjust="spacingAndGlyphs">шт.</tspan></text>
</g>
<g font-size="24.4" fill="#4d4e55" text-anchor="middle">
<text x="197.4" y="883.7">26.11</text>
<text x="306.2" y="883.7">27.11</text>
<text x="414.9" y="883.7">28.11</text>
<text x="523.7" y="883.7">29.11</text>
<text x="632.5" y="883.7">30.11</text>
<text x="741.2" y="883.7">01.12</text>
<text x="850.0" y="883.7">02.12</text>
<text x="958.8" y="883.7">03.12</text>
<text x="1067.5" y="883.7">04.12</text>
<text x="1176.3" y="883.7">05.12</text>
<text x="1285.0" y="883.7">06.12</text>
<text x="1393.8" y="883.7">07.12</text>
<text x="1502.6" y="883.7">08.12</text>
<text x="1611.3" y="883.7">09.12</text>
<text x="1720.1" y="883.7">10.12</text>
<text x="1828.9" y="883.7">11.12</text>
<text x="1937.7" y="883.7">12.12</text>
<text x="2046.4" y="883.7">13.12</text>
<text x="2155.2" y="883.7">14.12</text>
<text x="2263.9" y="883.7">15.12</text>
<text x="2372.7" y="883.7">16.12</text>
<text x="2481.5" y="883.7">17.12</text>
<text x="2590.2" y="883.7">18.12</text>
<text x="2699.0" y="883.7">19.12</text>
<text x="2807.8" y="883.7">20.12</text>
<text x="2916.6" y="883.7">21.12</text>
<text x="3025.3" y="883.7">22.12</text>
<text x="3134.1" y="883.7">23.12</text>
<text x="3242.8" y="883.7">24.12</text>
<text x="3351.6" y="883.7">25.12</text>
</g>
<g font-size="24.7" fill="#242424">
<text x="514.3" y="953.6" textLength="177.6" lengthAdjust="spacingAndGlyphs">Тула (Алексин)</text>
<text x="771.1" y="953.6" textLength="117.8" lengthAdjust="spacingAndGlyphs">Коледино</text>
<text x="967.8" y="953.6" textLength="205.2" lengthAdjust="spacingAndGlyphs">Санкт-Петербург</text>
<text x="1251.9" y="953.6" textLength="161.4" lengthAdjust="spacingAndGlyphs">Электросталь</text>
<text x="1493.7" y="953.6" textLength="120.5" lengthAdjust="spacingAndGlyphs">Владимир</text>
<text x="1694.6" y="953.6" textLength="232.4" lengthAdjust="spacingAndGlyphs">Неизвестный склад</text>
<text x="2006.3" y="953.6" textLength="129.1" lengthAdjust="spacingAndGlyphs">Краснодар</text>
<text x="2215.7" y="953.6" textLength="162.5" lengthAdjust="spacingAndGlyphs">Екатеринбург</text>
<text x="2458.5" y="953.6" textLength="81.1" lengthAdjust="spacingAndGlyphs">Казань</text>
<text x="2620.1" y="953.6" textLength="242.0" lengthAdjust="spacingAndGlyphs">Рязань (Тюшевское)</text>
<text x="2941.7" y="953.6" textLength="186.0" lengthAdjust="spacingAndGlyphs">Прочие склады</text>
</g>
<text x="3307.6" y="207.7" font-family="DejaVu Sans, Liberation Sans, sans-serif" font-size="47.5" fill="#5f6068" opacity="0.62" textLength="223" lengthAdjust="spacingAndGlyphs">mpstats</text>
</g>
</svg></body></html>
